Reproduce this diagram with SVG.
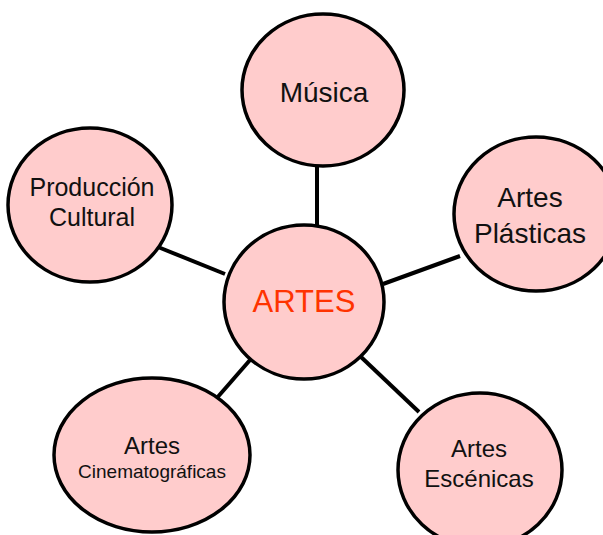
<svg xmlns="http://www.w3.org/2000/svg" width="603" height="535" viewBox="0 0 603 535">
<style>
.n{fill:#ffcccc;stroke:#000;stroke-width:3.5}
.c{stroke:#000;stroke-width:4;fill:none}
text{font-family:"Liberation Sans",Arial,sans-serif;fill:#111;text-anchor:middle}
</style>
<rect width="603" height="535" fill="#fff"/>
<g id="connectors">
<line class="c" x1="317" y1="165" x2="317" y2="226"/>
<line class="c" x1="158" y1="247" x2="225" y2="274"/>
<line class="c" x1="383" y1="284" x2="460" y2="256"/>
<line class="c" x1="216" y1="399" x2="250" y2="360"/>
<line class="c" x1="360" y1="356" x2="419" y2="412"/>
</g>
<g id="artes">
<ellipse class="n" cx="304" cy="302" rx="80" ry="77"/>
<text x="304" y="312" font-size="31" style="fill:#ff3300">ARTES</text>
</g>
<g id="musica">
<ellipse class="n" cx="323" cy="90" rx="81" ry="76"/>
<text x="324" y="102" font-size="28">Música</text>
</g>
<g id="produccion">
<ellipse class="n" cx="90" cy="205" rx="82" ry="77"/>
<text x="92" y="196" font-size="25">Producción</text>
<text x="92" y="226" font-size="25">Cultural</text>
</g>
<g id="plasticas">
<ellipse class="n" cx="536" cy="214" rx="82" ry="77"/>
<text x="530" y="207" font-size="28">Artes</text>
<text x="530" y="243" font-size="28">Plásticas</text>
</g>
<g id="cinematograficas">
<ellipse class="n" cx="152" cy="455" rx="98" ry="77"/>
<text x="152" y="454" font-size="24">Artes</text>
<text x="152" y="478" font-size="19">Cinematográficas</text>
</g>
<g id="escenicas">
<ellipse class="n" cx="480" cy="470" rx="82" ry="77"/>
<text x="479" y="457" font-size="24">Artes</text>
<text x="479" y="487" font-size="24">Escénicas</text>
</g>
</svg>
